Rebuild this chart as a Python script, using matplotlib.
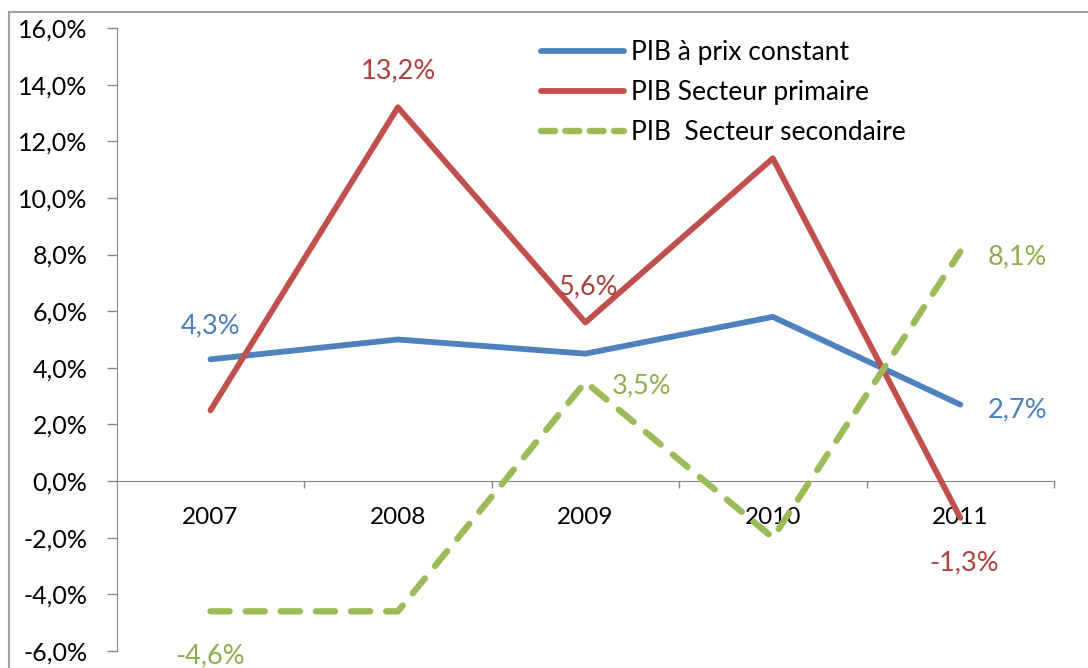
import matplotlib.pyplot as plt
from matplotlib.lines import Line2D
from matplotlib.ticker import FixedLocator

plt.rcParams['font.family'] = ['Lato', 'DejaVu Sans']

years = ["2007", "2008", "2009", "2010", "2011"]
pib_constant = [4.3, 5.0, 4.5, 5.8, 2.7]
pib_primaire = [2.5, 13.2, 5.6, 11.4, -1.3]
pib_secondaire = [-4.6, -4.6, 3.5, -2.0, 8.1]

labels = ["PIB à prix constant", "PIB Secteur primaire", "PIB  Secteur secondaire"]
colors = ["#4F81BD", "#C0504D", "#9BBB59"]
text_colors = ["#4A7EBB", "#A9403C", "#8CAD4C"]

fig = plt.figure(figsize=(10.88, 6.68), dpi=100)
ax = fig.add_axes([0.1073, 0.0255, 0.8615, 0.9325])

x = range(len(years))
ax.plot(x, pib_constant, color=colors[0], lw=4.2, solid_capstyle="round",
        solid_joinstyle="round", label=labels[0], zorder=3)
ax.plot(x, pib_primaire, color=colors[1], lw=4.2, solid_capstyle="round",
        solid_joinstyle="round", label=labels[1], zorder=3)
ax.plot(x, pib_secondaire, color=colors[2], lw=4.6, dashes=(3.0, 2.5),
        dash_capstyle="round", label=labels[2], zorder=3)

ax.set_xlim(-0.5, 4.5)
ax.set_ylim(-6, 16)
ax.set_yticks(range(-6, 17, 2))
ax.set_yticklabels([f"{v:.1f}%".replace(".", ",") for v in range(-6, 17, 2)])
ax.tick_params(axis="y", direction="out", length=7, width=1, color="#868686",
               pad=14, labelsize=18)

ax.set_xticks(list(x))
ax.set_xticklabels(years)
ax.tick_params(axis="x", which="major", length=0, pad=19, labelsize=17.5)
ax.xaxis.set_minor_locator(FixedLocator([0.5, 1.5, 2.5, 3.5, 4.5]))
ax.tick_params(axis="x", which="minor", direction="out", length=5, width=1,
               color="#868686")

for s in ["top", "right"]:
    ax.spines[s].set_visible(False)
ax.spines["bottom"].set_position(("data", 0))
ax.spines["left"].set_color("#868686")
ax.spines["bottom"].set_color("#868686")

fs = 19.5
def lab(xi, yi, txt, col, dx, dy, ha="center"):
    ax.annotate(txt, (xi, yi), xytext=(dx, dy), textcoords="offset points",
                ha=ha, va="center", color=col, fontsize=fs)

fmt = lambda v: f"{v:.1f}%".replace(".", ",")
lab(0, pib_constant[0], fmt(pib_constant[0]), text_colors[0], 0, 24)
lab(4, pib_constant[4], fmt(pib_constant[4]), text_colors[0], 20, -4, ha="left")
lab(1, pib_primaire[1], fmt(pib_primaire[1]), text_colors[1], 0, 26)
lab(2, pib_primaire[2], fmt(pib_primaire[2]), text_colors[1], 2, 26)
lab(4, pib_primaire[4], fmt(pib_primaire[4]), text_colors[1], 3, -32)
lab(0, pib_secondaire[0], fmt(pib_secondaire[0]), text_colors[2], 0, -32)
lab(2, pib_secondaire[2], fmt(pib_secondaire[2]), text_colors[2], 19, -3, ha="left")
lab(4, pib_secondaire[4], fmt(pib_secondaire[4]), text_colors[2], 20, -4, ha="left")

handles = [Line2D([], [], color=colors[0], lw=4.2, solid_capstyle="round"),
           Line2D([], [], color=colors[1], lw=4.2, solid_capstyle="round"),
           Line2D([], [], color=colors[2], lw=4.6, dashes=(2.2, 1.6),
                  dash_capstyle="round")]
fig.legend(handles, labels, loc="upper left", bbox_to_anchor=(541 / 1088, 1 - 40 / 668),
           frameon=False, fontsize=19, handlelength=3.15, handletextpad=0.27,
           labelspacing=0.57, borderpad=0, borderaxespad=0)

# outer chart frame
fig.add_artist(Line2D([9 / 1088, 9 / 1088], [0, 1 - 12 / 668], color="#A0A0A0",
                      lw=1.5, transform=fig.transFigure))
fig.add_artist(Line2D([9 / 1088, 1], [1 - 12 / 668, 1 - 12 / 668], color="#A0A0A0",
                      lw=1.5, transform=fig.transFigure))

fig.savefig("out.png", dpi=100)
